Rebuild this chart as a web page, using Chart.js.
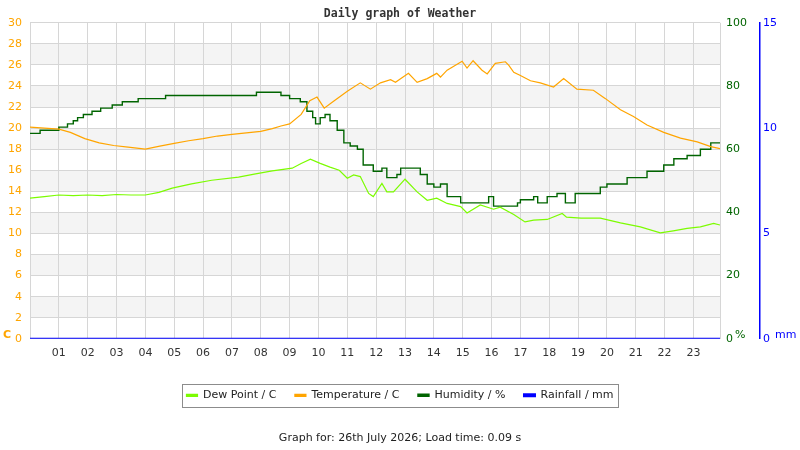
<!DOCTYPE html>
<html>
<head>
<meta charset="utf-8">
<script src="https://cdn.jsdelivr.net/npm/chart.js@4.4.1/dist/chart.umd.min.js"></script>
<style>
html,body{margin:0;padding:0;background:#fff;}
#wrap{width:800px;height:450px;position:relative;}
</style>
</head>
<body>
<div id="wrap"><canvas id="c"></canvas></div>
<script>
// ---- data ----
const hourTicks = ['01','02','03','04','05','06','07','08','09','10','11','12','13','14','15','16','17','18','19','20','21','22','23'];

const tempHours  = [0.0,0.5,1.0,1.4,1.9,2.4,2.9,3.4,4.0,4.5,5.0,5.5,6.0,6.5,7.0,7.5,8.0,8.4,8.7,9.0,9.4,9.7,9.95,10.2,10.5,11.0,11.45,11.8,12.15,12.5,12.67,13.12,13.42,13.77,14.1,14.23,14.46,14.98,15.15,15.36,15.67,15.85,16.13,16.48,16.6,16.77,17.0,17.35,17.69,18.15,18.5,18.96,19.53,19.95,20.47,20.92,21.39,21.97,22.55,23.13,23.6,23.92];
const tempValues = [20.1,20.0,19.9,19.6,19.0,18.6,18.35,18.2,18.0,18.3,18.55,18.8,19.0,19.25,19.4,19.55,19.7,19.95,20.2,20.4,21.3,22.6,22.95,21.9,22.5,23.5,24.3,23.7,24.3,24.6,24.35,25.2,24.35,24.7,25.2,24.85,25.5,26.35,25.7,26.4,25.5,25.15,26.15,26.3,25.95,25.3,25.0,24.5,24.3,23.9,24.7,23.7,23.6,22.8,21.75,21.1,20.3,19.6,19.05,18.7,18.25,18.05];

const humHours  = [0.0,0.35,1.0,1.3,1.5,1.65,1.85,2.15,2.45,2.85,3.2,3.75,4.7,7.85,8.7,9.0,9.37,9.6,9.8,9.9,10.06,10.23,10.4,10.65,10.88,11.1,11.35,11.55,11.9,12.2,12.37,12.72,12.85,13.07,13.53,13.77,14.0,14.23,14.46,14.93,15.38,15.9,16.07,16.9,17.0,17.46,17.6,17.93,18.27,18.56,18.9,19.3,19.77,20.0,20.7,21.39,21.97,22.32,22.78,23.24,23.6,23.92];
const humValues = [65,66,67,68,69,70,71,72,73,74,75,76,77,78,77,76,75,72,70,68,70,71,69,66,62,61,60,55,53,54,51,52,54,54,52,49,48,49,45,43,43,45,42,43,44,45,43,45,46,43,46,46,48,49,51,53,55,57,58,60,62,62];

const dewHours  = [0.0,0.5,1.0,1.5,2.0,2.5,3.0,3.5,4.0,4.47,4.93,5.6,6.3,7.23,7.82,8.4,9.09,9.4,9.72,10.06,10.4,10.72,11.0,11.22,11.45,11.74,11.9,12.2,12.37,12.6,13.0,13.42,13.77,14.1,14.46,14.93,15.15,15.61,16.07,16.3,16.77,17.16,17.46,17.93,18.45,18.6,19.1,19.77,20.47,21.16,21.85,22.3,22.78,23.24,23.7,23.92];
const dewValues = [13.35,13.5,13.65,13.6,13.65,13.6,13.7,13.65,13.65,13.9,14.3,14.7,15.05,15.35,15.65,15.95,16.2,16.65,17.05,16.65,16.3,16.0,15.25,15.55,15.4,13.8,13.5,14.75,13.95,13.95,15.15,13.95,13.15,13.35,12.85,12.55,11.95,12.7,12.3,12.5,11.8,11.1,11.27,11.33,11.9,11.55,11.45,11.45,11.0,10.63,10.05,10.25,10.48,10.63,10.95,10.8];

const rainHours  = [0,4,8,12,16,20,23.92];
const rainValues = [0,0,0,0,0,0,0];

function pts(xs, ys){ return xs.map((x,i)=>({x:x, y:ys[i]})); }

const FONT = '"DejaVu Sans", sans-serif';
const GRID = '#d6d6d6';
const X_MAX = 23.92;

const decor = {
  id:'decor',
  beforeDraw(chart){
    const {ctx, chartArea:a, scales} = chart;
    const y = scales.y;
    ctx.save();
    ctx.fillStyle = '#f4f4f4';
    y.ticks.forEach(t=>{
      if (t.value % 4 === 2 && t.value < y.max) {
        const top = y.getPixelForValue(t.value + 2);
        const bot = y.getPixelForValue(t.value);
        ctx.fillRect(a.left, top, a.right - a.left, bot - top);
      }
    });
    ctx.restore();
  },
  afterDraw(chart){
    const {ctx, chartArea:a, scales} = chart;
    ctx.save();
    ctx.textBaseline = 'alphabetic';
    ctx.textAlign = 'left';
    ctx.font = 'bold 11px ' + FONT;
    ctx.fillStyle = '#FFA500';
    ctx.fillText('C', 3, a.bottom - 1);
    ctx.font = '11px ' + FONT;
    ctx.fillStyle = '#006400';
    ctx.fillText('%', scales.y1.left + 15, a.bottom - 1);
    ctx.fillStyle = '#0000FF';
    ctx.fillText('mm', scales.y2.left + 15, a.bottom - 1);
    // legend frame
    const hb = chart.legend.legendHitBoxes;
    if (hb && hb.length){
      const first = hb[0], last = hb[hb.length-1];
      const cy = first.top + first.height/2;
      const x0 = Math.round(first.left - 4) + 0.5;
      const x1 = Math.round(last.left + last.width + 4) + 0.5;
      ctx.strokeStyle = '#8c8c8c';
      ctx.lineWidth = 1;
      ctx.strokeRect(x0, Math.round(cy - 11.5) + 0.5, x1 - x0, 23);
    }
    ctx.restore();
  }
};

new Chart(document.getElementById('c'), {
  type: 'line',
  data: {
    datasets: [
      {label:'Dew Point / C', data: pts(dewHours, dewValues), borderColor:'#7CFC00', backgroundColor:'#7CFC00', borderWidth:1.2, pointRadius:0, yAxisID:'y', tension:0},
      {label:'Temperature / C', data: pts(tempHours, tempValues), borderColor:'#FFA500', backgroundColor:'#FFA500', borderWidth:1.2, pointRadius:0, yAxisID:'y', tension:0},
      {label:'Humidity / %', data: pts(humHours, humValues), borderColor:'#006400', backgroundColor:'#006400', borderWidth:1.4, pointRadius:0, yAxisID:'y1', stepped:'before'},
      {label:'Rainfall / mm', data: pts(rainHours, rainValues), borderColor:'#0000FF', backgroundColor:'#0000FF', borderWidth:2, pointRadius:0, yAxisID:'y2'}
    ]
  },
  options: {
    responsive:true,
    maintainAspectRatio:false,
    animation:false,
    events:[],
    layout:{padding:0},
    plugins:{
      title:{display:true, text:'Daily graph of Weather', color:'#333', font:{family:'"DejaVu Sans Mono", monospace', size:11.5, weight:'bold'}, padding:{top:7, bottom:2}},
      legend:{position:'bottom', labels:{boxWidth:11, boxHeight:2, padding:18.5, color:'#222', font:{family:FONT, size:11}}},
      subtitle:{display:true, position:'bottom', text:'Graph for: 26th July 2026; Load time: 0.09 s', color:'#222', font:{family:FONT, size:11}, padding:{top:21, bottom:5}},
      tooltip:{enabled:false}
    },
    scales:{
      x:{
        type:'linear', min:0, max:X_MAX,
        afterFit(s){ s.height = 32.5; },
        afterBuildTicks(s){
          const t = [{value:0}];
          hourTicks.forEach((lab,i)=>t.push({value:i+1}));
          t.push({value:X_MAX});
          s.ticks = t;
        },
        grid:{color:GRID, drawTicks:false},
        border:{color:GRID},
        ticks:{autoSkip:false, maxRotation:0, padding:8, color:'#333', font:{family:FONT, size:11},
          callback(v){ return (Number.isInteger(v) && v>=1 && v<=hourTicks.length) ? hourTicks[v-1] : ''; }}
      },
      y:{
        position:'left', min:0, max:30,
        afterFit(s){ s.width = 30; },
        grid:{color:GRID, drawTicks:false},
        border:{color:GRID},
        ticks:{stepSize:2, padding:8, color:'#FFA500', font:{family:FONT, size:11}}
      },
      y1:{
        position:'right', min:0, max:100, weight:0,
        afterFit(s){ s.width = 40; },
        grid:{display:false, drawOnChartArea:false, drawTicks:false},
        border:{display:false},
        ticks:{stepSize:20, padding:6, color:'#006400', font:{family:FONT, size:11}}
      },
      y2:{
        position:'right', min:0, max:15, weight:1,
        afterFit(s){ s.width = 40; },
        grid:{display:true, drawOnChartArea:false, drawTicks:false, color:'rgba(0,0,0,0)'},
        border:{display:true, color:'#0000FF', width:1.5},
        ticks:{stepSize:5, padding:3, color:'#0000FF', font:{family:FONT, size:11}}
      }
    }
  },
  plugins:[decor]
});
</script>
</body>
</html>
